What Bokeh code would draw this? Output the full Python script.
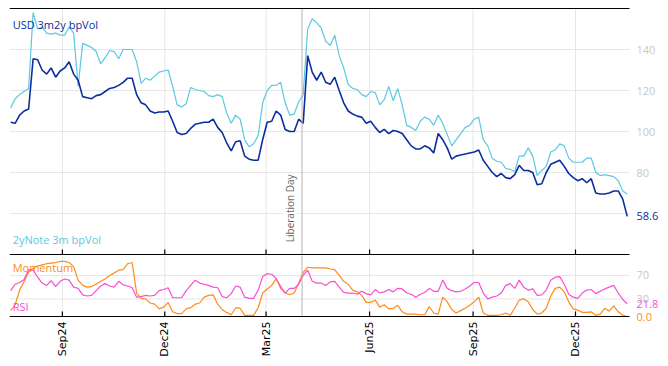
import math
import pandas as pd
from bokeh.plotting import figure
from bokeh.layouts import column
from bokeh.models import Range1d, FixedTicker, Label, DatetimeTickFormatter
from bokeh.core.properties import value
from bokeh.embed import file_html
from bokeh.resources import INLINE

# ---------------- data (one point every 4 days) ----------------
START = "2024-07-17"
STEP = "4D"

usd_3m2y_bpvol = [
    104.5, 104, 108, 110, 111, 135.5, 135, 130, 128, 131, 126.5, 129.5, 131, 134, 128, 125,
    117, 116.5, 116, 117.5, 118, 119.5, 121, 121.5, 122.5, 124, 126, 126, 118, 114, 113, 110,
    109, 109.5, 109.5, 110, 105, 99.5, 98.5, 99, 101.5, 103.5, 104, 104.5, 104.5, 106, 102, 99.5,
    94.5, 90.5, 95, 95.5, 88, 86.5, 86, 86, 96, 104.5, 105, 110, 108, 101, 100, 100,
    106, 104, 137, 129, 125, 129, 124, 123, 126.5, 120, 114, 110, 108.5, 107.5, 107, 104,
    105, 102, 99.5, 101, 99, 100.5, 100, 99, 96, 93, 91.5, 91.5, 93, 92, 89.5, 99,
    96, 92, 86.5, 88, 88.5, 89, 89.5, 90, 91, 86, 83, 80, 78, 79.5, 77.5, 77,
    79, 83.5, 81, 81, 80, 74, 74.5, 80, 84, 85, 86, 83, 79.5, 77.5, 76, 77,
    75, 77, 70, 69.5, 69.5, 70, 71, 71, 67, 58.6,
]

note_2y_3m_bpvol = [
    111.5, 116, 118, 119.5, 121, 158, 150, 151, 148, 147.5, 148, 147, 147, 151, 148, 122,
    143, 142, 141, 139, 133, 136, 139.5, 139, 135.5, 140, 140, 140, 134, 123.5, 126, 125,
    127, 129, 129.5, 130, 122, 113, 112, 113.5, 121.5, 120.5, 120, 119.5, 117.5, 117, 118, 117,
    109, 104, 108, 106, 96, 92.5, 94, 98, 114, 120, 122.5, 122.5, 124, 114, 108, 108.5,
    114.5, 118, 150, 155, 153, 150.5, 144, 142, 147, 137, 131, 123, 121, 120.5, 118, 117,
    119.5, 119, 113, 115.5, 122, 115, 121, 113, 103, 102, 100.5, 105, 107, 106, 103, 108,
    104, 98.5, 93, 96, 99, 102, 103, 106, 107, 96, 93, 87, 85.5, 85, 82, 81.5,
    80.5, 88, 88, 92, 88, 78.5, 81, 83, 90, 91, 94, 93, 87, 85, 85, 85,
    87, 87, 80, 78.5, 79, 78.5, 78, 76, 71, 69.5,
]

momentum = [
    10, 20, 45, 60, 76, 82, 86, 88, 90, 91, 92, 94, 94, 92, 85, 62,
    53, 50, 51, 55, 60, 64, 70, 74, 79, 80, 90, 92, 40, 31, 30, 23,
    21, 13, 16, 24, 8, 5, 5, 13, 15, 21, 23, 33, 36, 37, 21, 12,
    7, 3, 15, 14, 2, 2, 2, 15, 40, 47, 53, 64, 52, 40, 37, 40,
    57, 75, 84, 83, 83, 83, 83, 81, 80, 70, 60, 55, 45, 42, 36, 24,
    24, 28, 16, 20, 13, 14, 19, 8, 4, 4, 4, 3, 3, 17, 6, 4,
    33, 25, 12, 6, 10, 14, 19, 25, 33, 6, 2, 2, 2, 3, 6, 2,
    14, 28, 30, 25, 12, 4, 6, 14, 35, 48, 50, 42, 25, 13, 11, 7,
    7, 8, 2, 4, 14, 9, 18, 8, 2, 0,
]

rsi = [
    44, 55, 58, 63, 80, 79, 67, 57, 53, 61, 51, 60, 64, 62, 50, 48,
    37, 35, 36, 44, 52, 56, 52, 50, 60, 54, 52, 49, 33, 34, 36, 35,
    36, 44, 46, 49, 32, 32, 32, 44, 53, 62, 57, 55, 53, 50, 49, 34,
    32, 39, 52, 50, 33, 31, 31, 45, 68, 73, 72, 65, 48, 40, 48, 48,
    55, 70, 79, 60, 57, 57, 53, 59, 60, 50, 41, 40, 40, 38, 43, 39,
    37, 46, 40, 42, 46, 42, 48, 47, 40, 38, 33, 38, 41, 48, 43, 43,
    62, 48, 44, 42, 43, 47, 52, 58, 58, 40, 30, 33, 35, 40, 53, 56,
    48, 62, 50, 45, 47, 36, 37, 45, 62, 67, 68, 55, 38, 33, 31, 40,
    45, 46, 39, 43, 47, 50, 53, 40, 29, 21.8,
]

tick_dates = ["2024-09-01", "2024-12-01", "2025-03-01", "2025-06-01", "2025-09-01", "2025-12-01"]
top_grid = [60, 80, 100, 120, 140]
top_labels = [80, 100, 120, 140]
bottom_grid = [30, 70]
bottom_labels = [30, 70]
event_date = "2025-04-02"
event_text = "Liberation Day"
name_usd = "USD 3m2y bpVol"
name_note = "2yNote 3m bpVol"
name_mom = "Momentum"
name_rsi = "RSI"
X_START = "2024-07-16"
X_AXIS_END = "2026-01-18"
TOP_RANGE = (40, 160)
BOT_RANGE = (0, 104)

# ---------------- styling ----------------
C_USD = "#0b2d9e"
C_NOTE = "#5cc8e2"
C_MOM = "#ff8c1a"
C_RSI = "#f84fd2"
C_GRID = "#e6e6e6"
C_TICKLBL = "#c8c8c8"
C_EVENT = "#b4b4b4"
FONT = "Open Sans"

LEFT_PAD = 9
TOP_PAD = 7
FRAME_W = 650          # full frame width (axis area + right label strip)
AXIS_W = 620           # width of the plotted area
TOP_H = 248
TOP_PX_PER_UNIT = 2.05
BOT_H = 61             # px spanned by BOT_RANGE
BOT_PX_PER_UNIT = BOT_H / (BOT_RANGE[1] - BOT_RANGE[0])
BOT_EXTRA = 5          # px below the lower axis line (room for "0.0")
TICK_LEN = 5


def dates_for(vals):
    return pd.date_range(START, periods=len(vals), freq=STEP)


def ms(d):
    return pd.Timestamp(d).value / 1e6


tick_ms = [ms(d) for d in tick_dates]
x0, x_axis_end = ms(X_START), ms(X_AXIS_END)
x_rng = Range1d(x0, x0 + (x_axis_end - x0) * FRAME_W / AXIS_W)

top_pad = 1 / TOP_PX_PER_UNIT
top_y = Range1d(TOP_RANGE[0] - top_pad, TOP_RANGE[1] + top_pad)
bot_y = Range1d(BOT_RANGE[0] - BOT_EXTRA / BOT_PX_PER_UNIT, BOT_RANGE[1])


def hlines(p, ys, color, width, lo, hi):
    p.segment(x0=[lo] * len(ys), x1=[hi] * len(ys), y0=ys, y1=ys, line_color=color, line_width=width)


def vlines(p, xs, color, width, lo, hi):
    p.segment(x0=xs, x1=xs, y0=[lo] * len(xs), y1=[hi] * len(xs), line_color=color, line_width=width)


def right_texts(p, ys, texts, color):
    p.text(x=[x_axis_end] * len(ys), y=ys, text=texts, x_offset=7, text_color=color,
           text_font=value(FONT), text_font_size=value("11px"), text_baseline="middle",
           text_align="left")


def common(p):
    p.outline_line_color = None
    p.background_fill_color = "white"
    p.border_fill_color = "white"


# ---------------- top panel ----------------
top = figure(frame_width=FRAME_W, frame_height=TOP_H, x_range=x_rng, y_range=top_y,
             x_axis_type=None, y_axis_type=None, output_backend="svg", toolbar_location=None,
             min_border_left=LEFT_PAD, min_border_right=0, min_border_top=TOP_PAD, min_border_bottom=0)
common(top)
hlines(top, top_grid, C_GRID, 1, x0, x_axis_end)
vlines(top, tick_ms, C_GRID, 1, top_y.start, top_y.end)
top.line(dates_for(note_2y_3m_bpvol), note_2y_3m_bpvol, color=C_NOTE, line_width=1.2)
top.line(dates_for(usd_3m2y_bpvol), usd_3m2y_bpvol, color=C_USD, line_width=1.6)
vlines(top, [ms(event_date)], C_EVENT, 1, top_y.start, top_y.end)
hlines(top, list(TOP_RANGE), "black", 1.2, x0, x_axis_end)
vlines(top, tick_ms, "black", 1.2, TOP_RANGE[0], TOP_RANGE[0] + TICK_LEN / TOP_PX_PER_UNIT)
right_texts(top, top_labels, [str(v) for v in top_labels], C_TICKLBL)
right_texts(top, [usd_3m2y_bpvol[-1]], [f"{usd_3m2y_bpvol[-1]:.1f}"], C_USD)

xs0 = ms(START)
top.add_layout(Label(x=xs0, y=155.8, x_offset=2, text=name_usd, text_color=C_USD,
                     text_font=FONT, text_font_size="11px", text_baseline="top"))
top.add_layout(Label(x=xs0, y=47.3, x_offset=2, text=name_note, text_color=C_NOTE,
                     text_font=FONT, text_font_size="11px", text_baseline="middle"))
top.add_layout(Label(x=ms(event_date), y=46, x_offset=-5, angle=math.pi / 2, text=event_text,
                     text_color="#666666", text_font=FONT, text_font_size="10px",
                     text_align="left", text_baseline="bottom",
                     background_fill_color="white"))

# ---------------- bottom panel ----------------
bot = figure(frame_width=FRAME_W, frame_height=BOT_H + BOT_EXTRA, x_range=x_rng, y_range=bot_y,
             x_axis_type="datetime", y_axis_type=None, output_backend="svg", toolbar_location=None,
             min_border_left=LEFT_PAD, min_border_right=0, min_border_top=0, min_border_bottom=0)
common(bot)
bot.xgrid.visible = False
hlines(bot, bottom_grid, C_GRID, 1, x0, x_axis_end)
vlines(bot, tick_ms, C_GRID, 1, BOT_RANGE[0], BOT_RANGE[1])
bot.line(dates_for(momentum), momentum, color=C_MOM, line_width=1.2)
bot.line(dates_for(rsi), rsi, color=C_RSI, line_width=1.2)
vlines(bot, [ms(event_date)], C_EVENT, 1, BOT_RANGE[0], BOT_RANGE[1])
hlines(bot, [BOT_RANGE[0]], "black", 1.2, x0, x_axis_end)
vlines(bot, tick_ms, "black", 1.2, BOT_RANGE[0], BOT_RANGE[0] + TICK_LEN / BOT_PX_PER_UNIT)
right_texts(bot, bottom_labels, [str(v) for v in bottom_labels], C_TICKLBL)
right_texts(bot, [rsi[-1]], [f"{rsi[-1]:.1f}"], C_RSI)
right_texts(bot, [momentum[-1]], [f"{momentum[-1]:.1f}"], C_MOM)

ax = bot.xaxis[0]
ax.ticker = FixedTicker(ticks=tick_ms)
ax.formatter = DatetimeTickFormatter(days="%b%y", months="%b%y", years="%b%y")
ax.axis_line_color = None
ax.major_tick_line_color = None
ax.minor_tick_line_color = None
ax.major_tick_in = 0
ax.major_tick_out = 0
ax.minor_tick_in = 0
ax.minor_tick_out = 0
ax.axis_label = None
ax.axis_label_standoff = 0
ax.major_label_orientation = math.pi / 2
ax.major_label_text_font = "DejaVu Sans"
ax.major_label_text_font_size = "11px"
ax.major_label_text_color = "black"
ax.major_label_standoff = 0

bot.add_layout(Label(x=xs0, y=83, x_offset=2, text=name_mom, text_color=C_MOM,
                     text_font=FONT, text_font_size="11px", text_baseline="middle"))
bot.add_layout(Label(x=xs0, y=17, x_offset=2, text=name_rsi, text_color=C_RSI,
                     text_font=FONT, text_font_size="11px", text_baseline="middle"))

layout = column(top, bot, spacing=0)
open("out.html", "w").write(file_html(layout, INLINE))
